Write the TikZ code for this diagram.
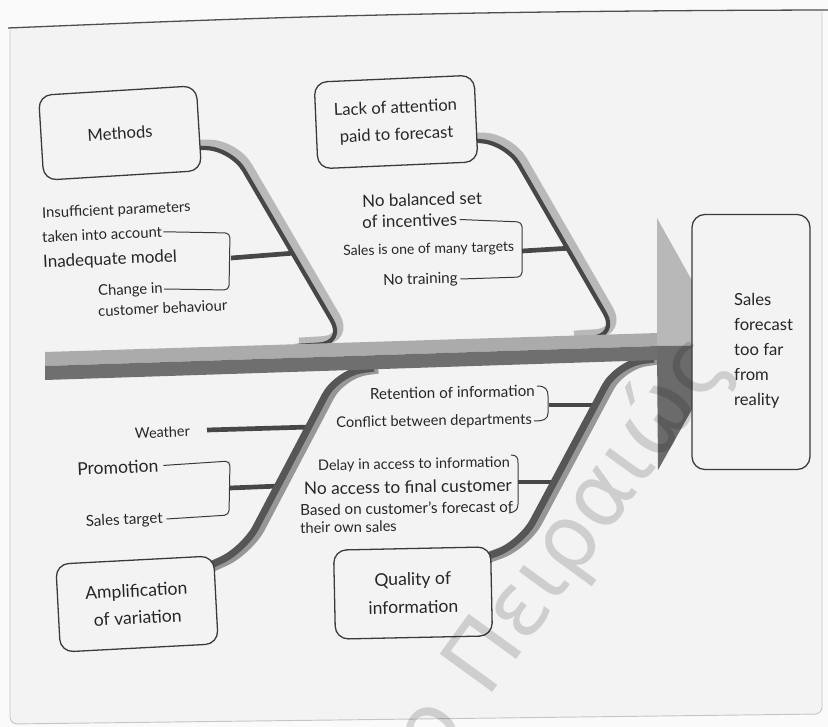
\documentclass[tikz,border=0pt]{standalone}
\usepackage{fontspec}
\setmainfont{Lato}
\newfontfamily\wmfont{DejaVu Sans}
\definecolor{pagebg}{HTML}{FAFAFA}
\definecolor{sheet}{HTML}{F3F3F3}
\definecolor{ink}{HTML}{262626}
\definecolor{boxline}{HTML}{3A3A3A}
\definecolor{framegray}{HTML}{C6C6C6}
\definecolor{topline}{HTML}{4E4E4E}
\definecolor{bonedark}{HTML}{474747}
\definecolor{bonelight}{HTML}{B9B9B9}
\definecolor{lowdark}{HTML}{565656}
\definecolor{lowlight}{HTML}{979797}
\definecolor{spinelight}{HTML}{ABABAB}
\definecolor{spinedark}{HTML}{6F6F6F}
\definecolor{headlight}{HTML}{B8B8B8}
\definecolor{headdark}{HTML}{6B6B6B}
\newcommand\fsz[1]{\fontsize{#1pt}{1.2\dimexpr #1pt\relax}\selectfont}
\begin{document}
\begin{tikzpicture}[x=0.03cm,y=-0.03cm,
  cat/.style={draw=boxline, line width=1.1pt, rounded corners=11pt, fill=sheet,
              text=ink, align=center, inner sep=0pt},
  lblL/.style={text=ink, inner sep=0pt, rotate=2.5},
  lblM/.style={text=ink, inner sep=0pt, rotate=1.5},
  lblR/.style={text=ink, inner sep=0pt, rotate=1},
  brk/.style={draw=boxline, line width=0.85pt, rounded corners=4pt},
  twig/.style={draw=bonedark, line width=4pt},
  upshade/.style={draw=bonelight, line width=7.5pt, rounded corners=22pt},
  upcore/.style={draw=bonedark, line width=3.6pt, rounded corners=22pt},
  lowshade/.style={draw=lowlight, line width=9.5pt, rounded corners=22pt},
  lowcore/.style={draw=lowdark, line width=6pt, rounded corners=22pt},
  wm/.style={text=black, text opacity=0.15, inner sep=0pt,
             font=\wmfont\fontsize{76pt}{76pt}\selectfont}]

% page and sheet
\useasboundingbox (0,0) rectangle (828,727);
\fill[pagebg] (0,0) rectangle (828,727);
\fill[sheet] (10,28) .. controls (250,18) and (420,11) .. (822,10)
   -- (822,708) -- (816,714) -- (16,724) -- (10,718) -- cycle;
\draw[framegray, line width=0.8pt, rounded corners=6pt]
   (10,30) -- (10,724) -- (822,714) -- (822,12);
\draw[topline, line width=1.1pt] (8,28) .. controls (250,18) and (420,11) .. (828,10);

% small branches
\draw[twig] (231,258) -- (295,253);
\draw[twig] (522,251) -- (572,248);
\draw[twig] (207,430) -- (310,427);
\draw[twig] (230,488) -- (280,486);
\draw[twig] (549,405) -- (595,405);
\draw[twig] (518,482) -- (552,482);

% main bones, upper side
\draw[upshade, shift={(4,-4)}] (170,148) -- (231,148) -- (345,343) -- (295,346);
\draw[upcore] (170,148) -- (231,148) -- (345,343) -- (295,346);
\draw[upshade, shift={(4,-4)}] (450,140) -- (506,142) -- (618,336) -- (570,339);
\draw[upcore] (450,140) -- (506,142) -- (618,336) -- (570,339);

% main bones, lower side
\draw[lowshade, shift={(3,0)}] (190,575) -- (245,550) -- (338,373) -- (375,368);
\draw[lowcore, shift={(-1,0)}] (190,575) -- (245,550) -- (338,373) -- (375,368);
\draw[lowshade, shift={(3,0)}] (465,565) -- (522,544) -- (618,364) -- (655,359);
\draw[lowcore, shift={(-1,0)}] (465,565) -- (522,544) -- (618,364) -- (655,359);

% spine and arrow head
\fill[spinelight] (45,352) -- (658,333) -- (658,346) -- (45,366) -- cycle;
\fill[spinedark] (45,366) -- (658,346) -- (658,360) -- (45,380) -- cycle;
\fill[headlight] (657,218) -- (728,345) -- (657,346) -- cycle;
\fill[headdark] (657,346) -- (728,345) -- (658,470) -- cycle;

% category boxes
\node[cat, rotate=3.5, minimum width=4.74cm, minimum height=2.55cm,
      font=\fsz{14.2}] (methods) at (120,133) {Methods};
\node[cat, rotate=2.5, minimum width=4.8cm, minimum height=2.6cm,
      font=\fsz{14.2}] (attention) at (396,122)
      {Lack of attention\\[6pt]paid to forecast};
\node[cat, rotate=3, minimum width=4.74cm, minimum height=2.64cm,
      font=\fsz{15}] (amplif) at (137,604)
      {Amplification\\[5pt]of variation};
\node[cat, rotate=1.2, minimum width=4.71cm, minimum height=2.67cm,
      font=\fsz{15}] (quality) at (413,593)
      {Quality of\\[6pt]information};
\node[cat, minimum width=3.54cm, minimum height=7.65cm] (effect) at (751,342) {};
\node[text=ink, inner sep=0pt, anchor=west, align=left,
      font=\fontsize{14.2pt}{21.3pt}\selectfont] (effecttxt) at (734,351)
      {Sales\\forecast\\too far\\from\\reality};

% causes of the methods branch
\node[lblL, anchor=west, font=\fsz{12.6}] (m1) at (42,214) {Insufficient parameters};
\node[lblL, anchor=west, font=\fsz{12.6}] (m2) at (42,237) {taken into account};
\node[lblL, anchor=west, font=\fsz{14.5}] (m3) at (43,263) {Inadequate model};
\node[lblL, anchor=east, font=\fsz{12.6}] (m4) at (163,289) {Change in};
\node[lblL, anchor=west, font=\fsz{12.6}] (m5) at (98,311) {customer behaviour};
\draw[brk] ([xshift=1pt]m2.east) -- (230,233) -- (229,290) -- ([xshift=1pt]m4.east);

% causes of the attention branch
\node[lblM, anchor=west, font=\fsz{14.5}] (l1) at (362,201) {No balanced set};
\node[lblM, anchor=west, font=\fsz{14.5}] (l2) at (362,222) {of incentives};
\node[lblM, anchor=west, font=\fsz{12}] (l3) at (343,252) {Sales is one of many targets};
\node[lblM, anchor=east, font=\fsz{13}] (l4) at (458,279) {No training};
\draw[brk] ([xshift=2pt]l2.east) -- (522,222) -- (522,277) -- ([xshift=2pt]l4.east);

% causes of the amplification branch
\node[lblL, anchor=east, font=\fsz{12.3}] (a1) at (190,431) {Weather};
\node[lblL, anchor=west, font=\fsz{15}] (a2) at (77,469) {Promotion};
\node[lblL, anchor=east, font=\fsz{12.9}] (a3) at (163,519) {Sales target};
\draw[brk] ([xshift=4pt]a2.east) -- (230,461) -- (229,515) -- ([xshift=3pt]a3.east);

% causes of the quality branch
\node[lblR, anchor=east, font=\fsz{13}] (q1) at (535,391) {Retention of information};
\node[lblR, anchor=east, font=\fsz{12.5}] (q2) at (532,420) {Conflict between departments};
\node[lblR, anchor=east, font=\fsz{12.4}] (q3) at (510,463) {Delay in access to information};
\node[lblR, anchor=east, font=\fsz{14.7}] (q4) at (512,485) {No access to final customer};
\node[lblR, anchor=west, font=\fsz{13}] (q5) at (300,510) {Based on customer's forecast of};
\node[lblR, anchor=west, font=\fsz{12.5}] (q6) at (300,528) {their own sales};
\draw[brk, rounded corners=0pt] (537,386) .. controls (546,386) and (548,390) .. (548,396)
   -- (548,413) .. controls (548,419) and (544,421) .. (534,421);
\draw[brk, rounded corners=0pt] (511,455) .. controls (517,455) and (518,458) .. (518,463)
   -- (518,504) .. controls (518,510) and (515,512) .. (509,513);

% watermark
\node[wm, anchor=base west, rotate=54] (wmark) at (487,700) {Πειραιώς};
\node[wm, anchor=base east, rotate=54] (wmarko) at (468,724) {ο};
\end{tikzpicture}
\end{document}
